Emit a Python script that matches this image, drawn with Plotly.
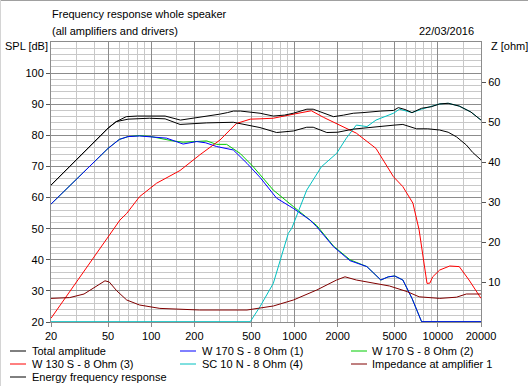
import plotly.graph_objects as go

# ---------------- data ----------------
total_f = [20, 30, 40, 50, 57, 67, 80, 100, 125, 160, 200, 250, 300, 340, 375, 420, 500, 575, 710, 850,
           980, 1100, 1220, 1350, 1500, 1870, 2200, 2570, 3000, 3500, 4000, 4900, 5300, 5900, 6600, 7700,
           9000, 10300, 11800, 14100, 17000, 20000]
total_db = [64.0, 72.1, 77.8, 82.3, 84.4, 86.0, 86.2, 86.2, 86.2, 84.9, 85.5, 86.3, 86.8, 87.3, 87.8, 87.8,
            87.5, 87.1, 86.2, 86.5, 87.1, 87.9, 88.4, 88.4, 87.6, 86.0, 86.5, 87.1, 87.3, 87.6, 87.8, 88.0,
            88.9, 88.3, 87.3, 88.7, 89.2, 90.1, 90.3, 89.4, 87.5, 84.9]

energy_f = [20, 50, 57, 69, 97, 125, 159, 200, 244, 374, 417, 574, 750, 982, 1217, 1350, 1680, 2000, 2570,
            3200, 3900, 5000, 5700, 7100, 8500, 10300, 11800, 13500, 15800, 17500, 20000]
energy_db = [64.0, 82.3, 84.4, 85.2, 85.5, 85.3, 83.5, 83.8, 84.0, 84.2, 83.8, 82.5, 80.9, 81.4, 82.6, 82.6,
             80.9, 81.0, 82.0, 82.5, 82.8, 83.3, 83.5, 82.1, 82.1, 81.7, 81.0, 79.5, 76.9, 74.5, 72.1]

w170_1_f = [20, 30, 50, 60, 69, 83, 100, 128, 167, 208, 240, 286, 374, 466, 574, 750, 982, 1280, 1430,
            1870, 2440, 3200, 4000, 4500, 5000, 5700, 6600, 7700, 10000, 20000]
w170_1_db = [57.9, 65.8, 75.8, 78.7, 79.6, 79.8, 79.6, 79.1, 77.2, 78.0, 77.6, 76.4, 75.3, 71.0, 66.5, 59.8,
             56.5, 52.8, 50.6, 44.2, 39.7, 37.8, 33.5, 34.5, 34.8, 33.5, 27.6, 20.1, 20.1, 20.1]

w170_2_f = [20, 30, 50, 60, 69, 83, 100, 142, 167, 244, 286, 336, 417, 513, 574, 711, 982, 1430, 1870,
            2440, 3200, 4000, 4500, 5000, 5700, 6600, 7700, 10000, 20000]
w170_2_db = [57.9, 65.8, 75.8, 78.7, 79.6, 79.9, 79.6, 78.2, 77.8, 78.2, 77.1, 77.1, 74.2, 70.0, 67.5, 62.4,
             57.1, 51.0, 44.4, 40.0, 37.8, 33.5, 34.5, 34.8, 33.5, 27.6, 20.1, 20.1, 20.1]

w130_f = [20, 30, 40, 50, 60.6, 67.5, 83, 109, 159, 218, 302, 393, 491, 574, 711, 1008, 1310, 1590, 2060,
          2700, 3700, 4900, 5700, 6700, 7400, 7900, 8400, 8800, 9200, 10300, 12100, 14100, 16500, 20000]
w130_db = [21.2, 32.8, 41.0, 47.4, 52.8, 54.9, 60.3, 64.6, 68.7, 73.7, 78.5, 83.8, 85.2, 85.3, 85.5, 86.9,
           87.9, 85.8, 83.3, 80.7, 75.8, 66.7, 63.5, 58.2, 49.6, 40.0, 32.4, 32.5, 34.5, 36.7, 38.0, 37.8,
           33.5, 27.6]

sc10_f = [20, 491, 574, 711, 905, 956, 1217, 1540, 1966, 2300, 2700, 3200, 3700, 4900, 5400, 6600, 7700,
          10300, 11800, 14100, 17000, 20000]
sc10_db = [20.1, 20.1, 24.9, 32.4, 48.5, 50.1, 62.4, 69.9, 74.2, 79.1, 83.3, 82.8, 84.9, 87.1, 88.4, 87.3,
           88.4, 90.1, 90.3, 89.4, 87.5, 84.9]

imp_f = [20, 27, 34, 39.5, 44, 47.6, 51, 57.5, 67.5, 83, 115, 159, 218, 466, 574, 711, 982, 1430, 1966,
         2250, 2700, 3500, 4600, 6100, 7400, 10300, 13500, 15800, 20000]
imp_ohm = [5.9, 6.1, 7.0, 8.4, 9.5, 10.3, 10.0, 7.8, 5.5, 4.25, 3.4, 3.2, 3.0, 3.0, 3.4, 4.0, 5.5, 8.0, 10.5,
           11.3, 10.5, 9.8, 9.0, 7.6, 6.3, 5.9, 6.2, 7.0, 7.0]

x_tick_vals = [20, 50, 100, 200, 500, 1000, 2000, 5000, 10000, 20000]
x_tick_text = ["20", "50", "100", "200", "500", "1000", "2000", "5000", "10000", "20000"]
x_minor_vals = [30, 40, 60, 70, 80, 90, 150, 300, 400, 600, 700, 800, 900, 1500, 3000, 4000, 6000, 7000,
                8000, 9000, 15000]
spl_ticks = [20, 30, 40, 50, 60, 70, 80, 90, 100]
z_ticks = [10, 20, 30, 40, 50, 60]

legend_items = [
    ("Total amplitude", "#000000"), ("W 170 S - 8 Ohm (1)", "#0000ff"), ("W 170 S - 8 Ohm (2)", "#00cc00"),
    ("W 130 S - 8 Ohm (3)", "#ff0000"), ("SC 10 N - 8 Ohm (4)", "#00c0c0"), ("Impedance at amplifier 1", "#800000"),
    ("Energy frequency response", "#000000"),
]

# ---------------- figure ----------------
FONT = "Liberation Sans"
fig = go.Figure()

def add(xs, ys, color, yaxis="y"):
    fig.add_trace(go.Scatter(x=xs, y=ys, mode="lines", line=dict(color=color, width=1),
                             yaxis=yaxis, showlegend=False, hoverinfo="skip"))

add(w170_2_f, w170_2_db, "#00cc00")
add(w170_1_f, w170_1_db, "#0000ff")
add(w130_f, w130_db, "#ff0000")
add(sc10_f, sc10_db, "#00c0c0")
add(imp_f, imp_ohm, "#800000", "y2")
add(energy_f, energy_db, "#000000")
add(total_f, total_db, "#000000")

L, R, T, B = 51, 481, 42, 322
W, H = 528, 386
def px(x):
    return (x - L) / (R - L)
def py(y):
    return (B - y) / (B - T)

fig.update_layout(
    width=W, height=H,
    margin=dict(l=L, r=W - R, t=T, b=H - B),
    paper_bgcolor="white", plot_bgcolor="white",
    font=dict(family=FONT, size=11, color="black"),
    xaxis=dict(type="log", range=[1.30103, 4.30103], tickvals=x_tick_vals, ticktext=x_tick_text,
               showgrid=True, gridcolor="#8c8c8c", gridwidth=1,
               ticks="outside", ticklen=4, tickcolor="#8c8c8c",
               showline=True, linecolor="#8c8c8c", mirror=True, zeroline=False,
               minor=dict(tickvals=x_minor_vals, showgrid=True, gridcolor="#c8c8c8", ticks=""),
               tickfont=dict(size=11)),
    yaxis=dict(range=[20, 110], tickvals=spl_ticks, showgrid=True, gridcolor="#8c8c8c",
               ticks="outside", ticklen=4, tickcolor="#555555",
               showline=True, linecolor="#8c8c8c", mirror=True, zeroline=False,
               minor=dict(dtick=2, showgrid=True, gridcolor="#c8c8c8", ticks=""),
               tickfont=dict(size=11)),
    yaxis2=dict(range=[0, 70], tickvals=z_ticks, overlaying="y", side="right", showgrid=False,
                ticks="outside", ticklen=4, tickcolor="#555555", zeroline=False, showline=False,
                tickfont=dict(size=11)),
)

ann = [
    dict(text="Frequency response whole speaker", x=px(50), y=py(14), xanchor="left"),
    dict(text="(all amplifiers and drivers)", x=px(50), y=py(31), xanchor="left"),
    dict(text="22/03/2016", x=px(476), y=py(31), xanchor="right"),
    dict(text="SPL [dB]", x=px(3), y=py(46), xanchor="left"),
    dict(text="Z [ohm]", x=px(489), y=py(46), xanchor="left"),
]
for a in ann:
    fig.add_annotation(xref="paper", yref="paper", yanchor="middle", showarrow=False,
                       font=dict(family=FONT, size=11, color="black"), **a)

cols = [(10, 30), (180, 200), (351, 370)]
rows = [351, 364, 377]
for i, (label, color) in enumerate(legend_items):
    r, c = divmod(i, 3)
    x0, xt = cols[c]
    y = rows[r]
    fig.add_shape(type="line", xref="paper", yref="paper", x0=px(x0), x1=px(x0 + 16), y0=py(y), y1=py(y),
                  line=dict(color=color, width=1))
    fig.add_annotation(xref="paper", yref="paper", x=px(xt), y=py(y), xanchor="left", yanchor="middle",
                       text=label, showarrow=False, font=dict(family=FONT, size=11, color="black"))

# window frame lines
fig.add_shape(type="line", xref="paper", yref="paper", x0=px(0), x1=px(W), y0=py(0.5), y1=py(0.5),
              line=dict(color="#a0a0a0", width=1))
fig.add_shape(type="line", xref="paper", yref="paper", x0=px(0.5), x1=px(0.5), y0=py(0), y1=py(H),
              line=dict(color="#d4d4d4", width=1))

fig.write_html("out.html", config={"displayModeBar": False},
               post_script="document.body.style.margin='0px';document.body.style.overflow='hidden';")
